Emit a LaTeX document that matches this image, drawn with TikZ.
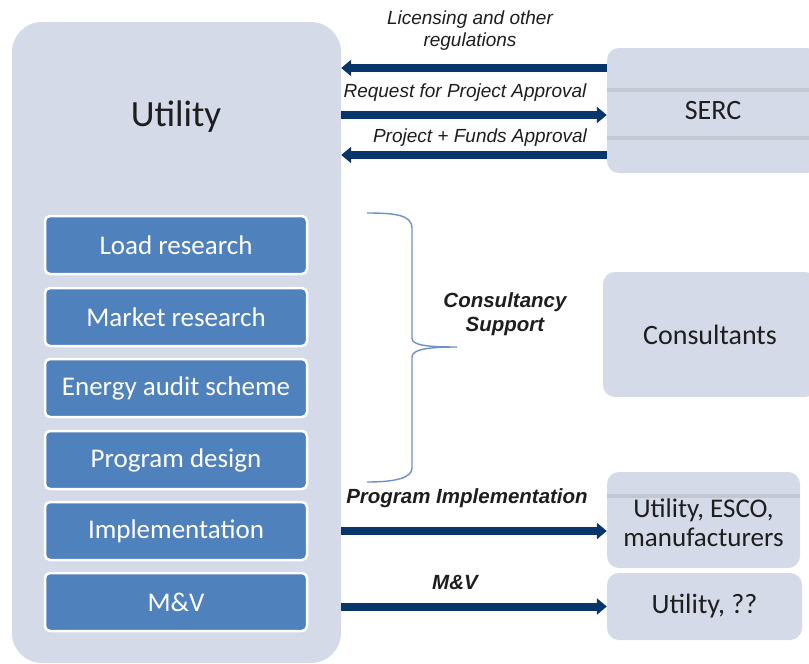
\documentclass[tikz,border=0pt]{standalone}
\usepackage{fontspec}
\setmainfont{Carlito}
\newfontfamily\arialf{Liberation Sans}
\usetikzlibrary{arrows.meta}
\definecolor{boxbg}{HTML}{D4DAE8}
\definecolor{blk}{HTML}{4F81BD}
\definecolor{navy}{HTML}{07376A}
\definecolor{bracec}{HTML}{6E90CA}
\definecolor{stripe}{HTML}{C3C7D0}
\definecolor{txt}{HTML}{1E1E1E}
\begin{document}
\begin{tikzpicture}[x=1pt,y=-1pt,
  bigbox/.style={fill=boxbg, rounded corners=30pt, minimum width=329pt, minimum height=641pt, inner sep=0pt},
  sidebox/.style={fill=boxbg, rounded corners=12pt, inner sep=0pt, text=txt, align=center, font=\fontsize{28}{29}\selectfont},
  stepbox/.style={fill=blk, draw=white, line width=2.5pt, rounded corners=5pt, minimum width=262pt, minimum height=58pt, inner sep=0pt, text=white, font=\fontsize{27}{30}\selectfont},
  arr/.style={draw=navy, line width=8pt, -{Triangle[length=10pt,width=16pt]}},
  lbl/.style={font=\arialf\itshape\fontsize{19}{22}\selectfont, text=txt, inner sep=0pt, align=center},
  blbl/.style={font=\arialf\itshape\bfseries\fontsize{20.5}{24}\selectfont, text=txt, inner sep=0pt, align=center},
  stripeline/.style={draw=stripe, line width=4pt}
]
\useasboundingbox (0,0) rectangle (809,664);
\fill[white] (0,0) rectangle (809,664);

% Utility
\node[bigbox] (utility) at (176.5,342.5) {};
\node[text=txt, font=\fontsize{37}{40}\selectfont, inner sep=0pt] (utilitylabel) at (176,117) {Utility};

\node[stepbox] (load) at (176,245) {Load research};
\node[stepbox] (market) at (176,317) {Market research};
\node[stepbox] (audit) at (176,388) {Energy audit scheme};
\node[stepbox] (design) at (176,460) {Program design};
\node[stepbox] (impl) at (176,531) {Implementation};
\node[stepbox] (mv) at (176,602) {M\&V};

% right boxes
\node[sidebox, minimum width=212pt, minimum height=125pt] (serc) at (713,110.5) {};
\draw[stripeline] (serc.west |- 0,90) -- (serc.east |- 0,90);
\draw[stripeline] (serc.west |- 0,138) -- (serc.east |- 0,138);
\node[text=txt, font=\fontsize{28}{29}\selectfont] (serctext) at (serc.center) {SERC};

\node[sidebox, minimum width=214pt, minimum height=125pt] (cons) at (710,334.5) {Consultants};

\node[sidebox, minimum width=193pt, minimum height=96pt] (esco) at (703.5,520) {};
\draw[stripeline] (esco.west |- 0,496) -- (esco.east |- 0,496);
\node[text=txt, font=\fontsize{27}{29}\selectfont, align=center, inner sep=0pt] (escotext) at (703.5,522.5) {Utility, ESCO,\\manufacturers};

\node[sidebox, minimum width=195pt, minimum height=67pt] (uq) at (704.5,606.5) {Utility, ??};

% arrows
\draw[arr] ([yshift=42.5pt]serc.west) coordinate (a1) -- (utility.east |- a1);
\draw[arr] (utility.east |- 0,115) coordinate (a2) -- (serc.west |- a2);
\draw[arr] ([yshift=-44.5pt]serc.west) coordinate (a3) -- (utility.east |- a3);
\draw[arr] (utility.east |- 0,531) coordinate (a4) -- (esco.west |- a4);
\draw[arr] (utility.east |- uq.west) -- (uq.west);

% labels
\node[lbl] (l1) at (470,31) {Licensing and other\\regulations};
\node[lbl] (l2) at (465,93) {Request for Project Approval};
\node[lbl] (l3) at (480,138) {Project + Funds Approval};
\node[blbl] (l4) at (505,314) {Consultancy\\Support};
\node[blbl] (l5) at (467,498) {Program Implementation};
\node[blbl] (l6) at (455,583) {M\&V};

% brace
\draw[bracec, line width=1.4pt]
  (367,213) .. controls (395,213) and (412,215) .. (412,228)
  -- (412,338) .. controls (412,345) and (425,347) .. (457,347)
  .. controls (425,347) and (412,350) .. (412,357)
  -- (412,468) .. controls (412,478) and (395,482) .. (367,482);
\end{tikzpicture}
\end{document}
